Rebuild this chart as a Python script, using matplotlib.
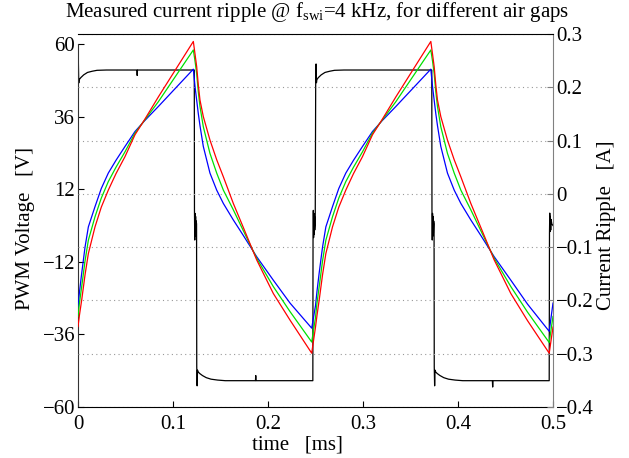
import numpy as np
import matplotlib
matplotlib.use('Agg')
import matplotlib.pyplot as plt

plt.rcParams['font.family'] = 'serif'
plt.rcParams['font.serif'] = ['Liberation Serif', 'DejaVu Serif']
plt.rcParams['mathtext.fontset'] = 'custom'
plt.rcParams['mathtext.rm'] = 'Liberation Serif'
plt.rcParams['mathtext.it'] = 'Liberation Serif:italic'

# PWM voltage (black), time in ms, volts
pwm_t = [0.0000, 0.0004, 0.0008, 0.0012, 0.0030, 0.0060, 0.0100, 0.0150, 0.0200, 0.0300,
         0.0620, 0.0623, 0.0626, 0.1000, 0.1224,
         0.1226, 0.1229, 0.1232, 0.1235, 0.1238, 0.1241, 0.1244, 0.1248,
         0.1250, 0.1254, 0.1258, 0.1262, 0.1280, 0.1310, 0.1350, 0.1400, 0.1470, 0.1550,
         0.1868, 0.1871, 0.1874, 0.2200, 0.2472,
         0.2474, 0.2477, 0.2480, 0.2483, 0.2486, 0.2489, 0.2492, 0.2497,
         0.2502, 0.2506, 0.2510, 0.2514, 0.2530, 0.2560, 0.2600, 0.2650, 0.2700, 0.2800,
         0.3500, 0.3724,
         0.3726, 0.3729, 0.3732, 0.3735, 0.3738, 0.3741, 0.3744, 0.3748,
         0.3750, 0.3754, 0.3758, 0.3762, 0.3780, 0.3810, 0.3850, 0.3900, 0.3970, 0.4050,
         0.4362, 0.4365, 0.4368, 0.4700, 0.4960,
         0.4963, 0.4966, 0.4969, 0.4972, 0.4976, 0.4980, 0.4988, 0.5000]
pwm_v = [47.5, 53.6, 47.1, 48.2, 48.9, 49.8, 50.6, 51.0, 51.3, 51.4,
         51.4, 49.6, 51.4, 51.4, 51.4,
         5.1, -4.8, 4.0, -3.5, 3.0, -2.5, 1.5, 0.5,
         -46.7, -53.0, -47.8, -48.3, -48.9, -49.6, -50.3, -50.8, -51.1, -51.3,
         -51.3, -49.6, -51.3, -51.3, -51.3,
         -4.8, 5.0, -4.0, 4.0, -3.0, 3.0, -1.5, 0.5,
         47.0, 53.4, 47.2, 48.2, 48.9, 49.8, 50.6, 51.0, 51.3, 51.4,
         51.4, 51.4,
         5.1, -4.8, 4.0, -3.5, 3.0, -2.5, 1.5, 0.5,
         -46.7, -53.0, -47.8, -48.3, -48.9, -49.6, -50.3, -50.8, -51.1, -51.3,
         -51.3, -53.4, -51.3, -51.3, -51.3,
         -2.5, 4.1, -2.0, 3.0, -1.5, 2.0, 0.5, 0.0]

# current ripple for the three air gaps, time in ms, amps
ripple_t = [0.0000, 0.0015, 0.0039, 0.0074, 0.0109, 0.0179, 0.0245, 0.0319, 0.0400,
            0.0495, 0.0600, 0.0700, 0.0846, 0.1214,
            0.1232, 0.1249, 0.1266, 0.1284, 0.1319, 0.1389, 0.1460, 0.1530, 0.1635,
            0.1740, 0.1881, 0.2056, 0.2232, 0.2460,
            0.2500, 0.2515, 0.2539, 0.2574, 0.2609, 0.2679, 0.2745, 0.2819, 0.2900,
            0.2995, 0.3100, 0.3200, 0.3346, 0.3714,
            0.3732, 0.3749, 0.3766, 0.3784, 0.3819, 0.3889, 0.3960, 0.4030, 0.4135,
            0.4240, 0.4381, 0.4556, 0.4732, 0.4960, 0.5000]
ripple_blue = [-0.212, -0.185, -0.149, -0.100, -0.062, -0.024, 0.010, 0.039, 0.063,
               0.089, 0.117, 0.137, 0.164, 0.234,
               0.201, 0.176, 0.151, 0.128, 0.089, 0.039, 0.007, -0.018, -0.049,
               -0.078, -0.118, -0.162, -0.205, -0.252,
               -0.210, -0.184, -0.148, -0.100, -0.062, -0.024, 0.010, 0.039, 0.063,
               0.089, 0.117, 0.137, 0.164, 0.234,
               0.201, 0.176, 0.151, 0.128, 0.089, 0.039, 0.007, -0.018, -0.049,
               -0.078, -0.118, -0.162, -0.207, -0.258, -0.205]
ripple_green = [-0.230, -0.205, -0.174, -0.126, -0.087, -0.043, -0.008, 0.023, 0.050,
                0.079, 0.114, 0.138, 0.173, 0.270,
                0.249, 0.226, 0.192, 0.164, 0.126, 0.076, 0.039, 0.007, -0.030,
                -0.069, -0.121, -0.174, -0.221, -0.278,
                -0.232, -0.206, -0.174, -0.126, -0.087, -0.043, -0.008, 0.023, 0.050,
                0.079, 0.114, 0.138, 0.173, 0.270,
                0.249, 0.226, 0.192, 0.164, 0.126, 0.076, 0.039, 0.007, -0.030,
                -0.069, -0.121, -0.174, -0.222, -0.279, -0.230]
ripple_red = [-0.249, -0.228, -0.199, -0.152, -0.112, -0.062, -0.025, 0.007, 0.038,
              0.070, 0.111, 0.139, 0.182, 0.286,
              0.262, 0.239, 0.205, 0.176, 0.145, 0.101, 0.064, 0.032, -0.018,
              -0.063, -0.124, -0.187, -0.237, -0.299,
              -0.250, -0.229, -0.199, -0.152, -0.112, -0.062, -0.025, 0.007, 0.038,
              0.070, 0.111, 0.139, 0.182, 0.286,
              0.262, 0.239, 0.205, 0.176, 0.145, 0.101, 0.064, 0.032, -0.018,
              -0.063, -0.124, -0.187, -0.238, -0.299, -0.250]

x_ticks = [0, 0.1, 0.2, 0.3, 0.4, 0.5]
x_labels = ['0', '0.1', '0.2', '0.3', '0.4', '0.5']
v_ticks = [-60, -36, -12, 12, 36, 60]
v_labels = ['\u221260', '\u221236', '\u221212', '12', '36', '60']
a_ticks = [-0.4, -0.3, -0.2, -0.1, 0, 0.1, 0.2, 0.3]
a_labels = ['\u22120.4', '\u22120.3', '\u22120.2', '\u22120.1', '0', '0.1', '0.2', '0.3']

W_PX, H_PX = 629, 458
fig = plt.figure(figsize=(W_PX / 100, H_PX / 100), dpi=100)
left, width = 78 / W_PX, 475 / W_PX
bottom = 51 / H_PX
ax = fig.add_axes([left, bottom, width, 363 / H_PX])
ax2 = fig.add_axes([left, bottom, width, 373 / H_PX])
ax2.patch.set_visible(False)

# left axis: PWM voltage
ax.plot(pwm_t, pwm_v, color='black', lw=0.9)
ax.set_xlim(0, 0.5)
ax.set_ylim(-60, 60)
ax.set_xticks(x_ticks)
ax.set_xticklabels(x_labels)
ax.set_yticks(v_ticks)
ax.set_yticklabels(v_labels)
ax.tick_params(direction='in', length=4.5, labelsize=15, width=0.8)
ax.tick_params(axis='x', pad=5.5)
ax.tick_params(axis='y', pad=2)
ax.spines['top'].set_visible(False)
ax.spines['right'].set_visible(False)
ax.spines['left'].set_color('#333333')
ax.spines['bottom'].set_color('black')

# right axis: current ripple
ax2.plot(ripple_t, ripple_blue, color='#0000ff', lw=0.9)
ax2.plot(ripple_t, ripple_green, color='#00e000', lw=0.9)
ax2.plot(ripple_t, ripple_red, color='#ff0000', lw=0.9)
ax2.set_xlim(0, 0.5)
ax2.set_ylim(-0.4, 0.3)
ax2.set_xticks([])
ax2.yaxis.tick_right()
ax2.set_yticks(a_ticks)
ax2.set_yticklabels(a_labels)
ax2.tick_params(axis='y', direction='in', length=4.5, labelsize=15, pad=2,
                color='#808080', width=0.8)
ax2.grid(axis='y', linestyle=(0, (1, 3)), color='#999999', lw=0.8)
ax2.spines['left'].set_visible(False)
ax2.spines['bottom'].set_visible(False)
ax2.spines['right'].set_color('#808080')
ax2.spines['top'].set_color('black')

fig.text(317 / W_PX, 1 - 12 / H_PX,
         r'Measured current ripple @ f$_{\mathrm{swi}}$=4 kHz, for different air gaps',
         ha='center', va='center', fontsize=15)
fig.text(26 / W_PX, 1 - 228 / H_PX, 'PWM Voltage   [V]', rotation=90,
         ha='center', va='center', fontsize=15)
fig.text(607 / W_PX, 1 - 225 / H_PX, 'Current Ripple   [A]', rotation=90,
         ha='center', va='center', fontsize=15)
fig.text(297 / W_PX, 1 - 445 / H_PX, 'time   [ms]', ha='center', va='center', fontsize=15)

fig.savefig('out.png', dpi=100)
